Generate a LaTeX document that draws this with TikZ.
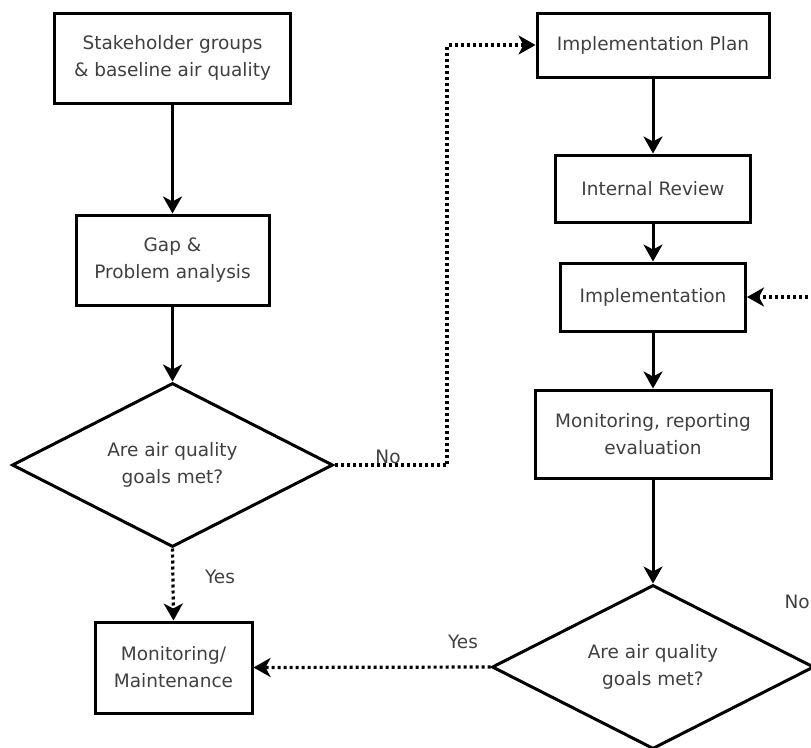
\documentclass[tikz,border=0pt]{standalone}
\usepackage{fontspec}
\setmainfont{DejaVu Sans}
\usetikzlibrary{arrows.meta,shapes.geometric}

\tikzset{
  box/.style={draw, line width=3pt, align=center, inner sep=0pt, text=black!75,
    font=\fontsize{18.5}{27}\selectfont},
  decision/.style={box, diamond, aspect=1.96},
  lbl/.style={text=black!75, font=\fontsize{18.5}{22}\selectfont, inner sep=0pt},
  flow/.style={line width=3pt, -{Stealth[length=17pt,width=19pt,inset=5pt]}},
  dotflow/.style={flow, line width=3.2pt, dash pattern=on 3pt off 3pt}
}

\begin{document}
\begin{tikzpicture}[x=1pt, y=-1pt]

  % cadre de l'image
  \useasboundingbox (0,0) rectangle (811,747);
  \clip (0,0) rectangle (811,747);

  % colonne de gauche
  \node[box, minimum width=236pt, minimum height=90pt] (stake) at (172.5,58)
    {Stakeholder groups\\\& baseline air quality};
  \node[box, minimum width=193pt, minimum height=90pt] (gap) at (172.5,260)
    {Gap \&\\Problem analysis};
  \node[decision, minimum width=321pt, minimum height=164pt] (goals1) at (172.5,465)
    {Are air quality\\goals met?};
  \node[box, minimum width=157pt, minimum height=91pt] (maint) at (173.5,667.5)
    {Monitoring/\\Maintenance};

  % colonne de droite
  \node[box, minimum width=232pt, minimum height=64pt] (plan) at (653,45)
    {Implementation Plan};
  \node[box, minimum width=195pt, minimum height=67pt] (review) at (653,188.5)
    {Internal Review};
  \node[box, minimum width=185pt, minimum height=68pt] (impl) at (653,297)
    {Implementation};
  \node[box, minimum width=236pt, minimum height=88pt] (moneval) at (653,434)
    {Monitoring, reporting\\evaluation};
  \node[decision, minimum width=322pt, minimum height=164pt] (goals2) at (653,667)
    {Are air quality\\goals met?};

  % fleches pleines
  \draw[flow] (stake) -- (gap);
  \draw[flow] (gap) -- (goals1);
  \draw[flow] (plan) -- (review);
  \draw[flow] (review) -- (impl);
  \draw[flow] (impl) -- (moneval);
  \draw[flow] (moneval) -- (goals2);

  % fleches pointillees
  \coordinate (bend) at (447,45);
  \draw[dotflow] (goals1.south) -- (maint.north);
  \draw[dotflow] (goals1.east) -| (bend) -- (plan.west);
  \draw[dotflow] (goals2.west) -- (maint.east);
  \draw[dotflow] (goals2.east) -- ++(30,0) |- (impl.east);

  % etiquettes
  \node[lbl] (no1) at (388,457) {No};
  \node[lbl] (yes1) at (220,577) {Yes};
  \node[lbl] (yes2) at (463,642) {Yes};
  \node[lbl, anchor=east] (no2) at (810,602) {No};

\end{tikzpicture}
\end{document}
